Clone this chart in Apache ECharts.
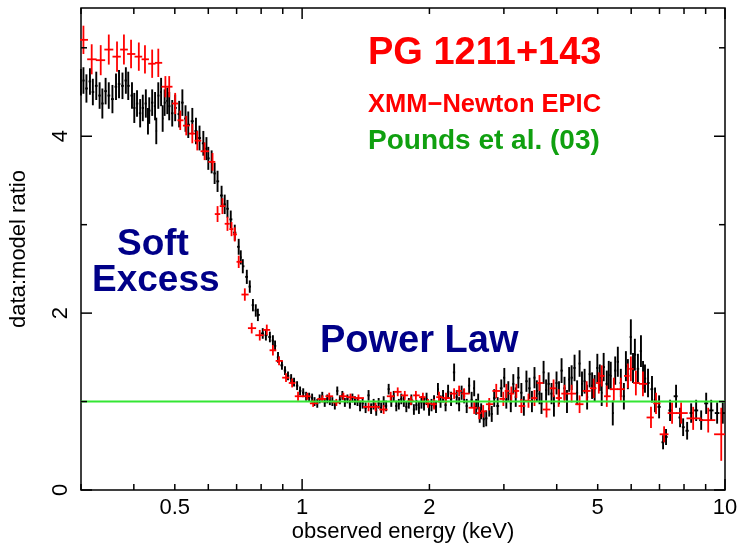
<!DOCTYPE html>
<html><head><meta charset="utf-8">
<script src="https://cdn.jsdelivr.net/npm/echarts@6/dist/echarts.min.js"></script>
<style>html,body{margin:0;padding:0;background:#fff}#c{width:737px;height:548px}</style>
</head><body><div id="c"></div>
<script>
// [energy keV, data:model ratio, 1-sigma error]
const blackPoints = [
[0.300,4.61,0.15],[0.304,4.63,0.15],[0.309,4.54,0.16],[0.315,4.62,0.15],[0.320,4.50,0.15],[0.326,4.57,0.16],[0.332,4.46,0.15],[0.337,4.37,0.17],[0.343,4.51,0.15],[0.349,4.46,0.15],
[0.356,4.42,0.16],[0.363,4.56,0.15],[0.369,4.59,0.16],[0.376,4.57,0.15],[0.383,4.63,0.15],[0.388,4.57,0.16],[0.396,4.46,0.15],[0.401,4.32,0.17],[0.407,4.37,0.15],[0.414,4.26,0.16],
[0.420,4.32,0.15],[0.427,4.37,0.16],[0.432,4.17,0.15],[0.435,4.29,0.15],[0.442,4.38,0.15],[0.449,4.34,0.16],[0.452,4.06,0.15],[0.457,4.46,0.15],[0.464,4.50,0.16],[0.468,4.20,0.15],
[0.473,4.38,0.15],[0.480,4.40,0.15],[0.485,4.34,0.16],[0.493,4.26,0.15],[0.501,4.32,0.15],[0.512,4.25,0.15],[0.521,4.38,0.15],[0.530,4.20,0.15],[0.538,4.13,0.15],[0.550,4.17,0.15],
[0.561,4.06,0.15],[0.572,3.98,0.14],[0.584,3.92,0.14],[0.594,3.86,0.13],[0.600,3.75,0.13],[0.611,3.71,0.13],[0.621,3.58,0.12],[0.631,3.49,0.12],[0.645,3.33,0.11],[0.656,3.23,0.11],
[0.666,3.18,0.10],[0.678,3.06,0.10],[0.693,2.91,0.09],[0.708,2.75,0.09],[0.716,2.63,0.08],[0.724,2.53,0.08],[0.740,2.41,0.08],[0.752,2.30,0.07],[0.765,2.09,0.07],[0.777,2.03,0.07],
[0.786,1.98,0.07],[0.807,1.77,0.06],[0.821,1.75,0.06],[0.839,1.73,0.06],[0.853,1.69,0.06],[0.863,1.63,0.06],[0.877,1.50,0.06],[0.896,1.41,0.05],[0.911,1.35,0.05],[0.926,1.29,0.05],
[0.942,1.26,0.05],[0.957,1.22,0.05],[0.973,1.18,0.05],[0.989,1.12,0.05],[1.006,1.10,0.05],[1.022,1.06,0.05],[1.039,1.05,0.05],[1.056,1.04,0.05],[1.070,1.00,0.05],[1.086,0.98,0.05],
[1.100,1.03,0.05],[1.116,1.06,0.05],[1.131,0.99,0.05],[1.147,1.03,0.05],[1.163,1.01,0.05],[1.179,1.00,0.05],[1.195,0.96,0.05],[1.211,1.12,0.05],[1.228,1.02,0.05],[1.245,1.07,0.05],
[1.262,0.99,0.05],[1.280,1.03,0.05],[1.297,0.97,0.05],[1.315,1.04,0.05],[1.333,1.01,0.05],[1.352,1.00,0.05],[1.371,0.95,0.06],[1.390,0.98,0.06],[1.413,0.93,0.06],[1.436,1.07,0.06],
[1.456,0.92,0.06],[1.476,0.97,0.06],[1.497,0.90,0.06],[1.517,0.98,0.06],[1.538,0.93,0.06],[1.559,1.00,0.06],[1.580,0.95,0.06],[1.602,1.14,0.06],[1.625,1.00,0.06],[1.647,1.06,0.06],
[1.670,0.95,0.06],[1.693,0.97,0.06],[1.716,1.03,0.06],[1.740,1.00,0.06],[1.764,0.94,0.06],[1.788,0.98,0.06],[1.813,1.02,0.06],[1.838,0.91,0.06],[1.863,0.96,0.06],[1.889,0.93,0.07],
[1.915,0.99,0.07],[1.942,0.97,0.07],[1.969,1.03,0.07],[1.996,0.91,0.07],[2.023,0.96,0.07],[2.051,1.00,0.07],[2.073,0.94,0.07],[2.095,1.14,0.07],[2.125,1.00,0.07],[2.154,1.06,0.07],
[2.184,0.96,0.07],[2.214,1.11,0.08],[2.250,1.03,0.08],[2.288,1.33,0.10],[2.320,1.05,0.08],[2.351,0.97,0.08],[2.383,1.10,0.08],[2.416,1.06,0.08],[2.450,0.95,0.08],[2.483,1.18,0.09],
[2.517,1.02,0.09],[2.552,1.15,0.09],[2.580,0.94,0.09],[2.608,1.00,0.09],[2.630,0.85,0.09],[2.651,0.89,0.09],[2.688,0.80,0.09],[2.725,0.81,0.09],[2.770,0.92,0.09],[2.808,0.86,0.09],
[2.846,1.04,0.10],[2.900,0.95,0.10],[2.958,1.15,0.10],[3.007,1.27,0.11],[3.040,1.02,0.10],[3.073,1.12,0.11],[3.115,0.98,0.10],[3.158,1.20,0.11],[3.200,1.05,0.11],[3.246,1.27,0.12],
[3.300,1.10,0.11],[3.345,0.95,0.11],[3.392,1.23,0.12],[3.449,1.15,0.12],[3.495,1.00,0.12],[3.544,1.27,0.12],[3.590,1.12,0.12],[3.642,1.09,0.12],[3.682,0.98,0.12],[3.724,1.33,0.13],
[3.775,1.13,0.12],[3.827,1.20,0.13],[3.889,1.09,0.12],[3.940,0.95,0.12],[3.996,1.21,0.13],[4.050,1.10,0.13],[4.107,1.35,0.14],[4.174,1.15,0.13],[4.230,1.00,0.13],[4.280,1.25,0.14],
[4.338,1.27,0.14],[4.408,1.38,0.15],[4.470,1.10,0.14],[4.530,1.43,0.15],[4.590,1.20,0.14],[4.656,1.23,0.14],[4.720,1.05,0.14],[4.786,1.31,0.15],[4.850,1.18,0.15],[4.918,1.15,0.15],
[4.990,1.38,0.16],[5.057,1.27,0.15],[5.110,1.10,0.15],[5.165,1.39,0.16],[5.254,1.20,0.15],[5.310,1.30,0.16],[5.368,1.29,0.16],[5.428,0.87,0.14],[5.500,1.35,0.16],[5.579,1.45,0.17],
[5.671,1.21,0.16],[5.766,1.06,0.15],[5.830,1.40,0.17],[5.893,1.31,0.17],[5.989,1.73,0.20],[6.060,1.38,0.17],[6.122,1.53,0.18],[6.224,1.37,0.17],[6.328,1.57,0.18],[6.400,1.30,0.16],
[6.468,1.26,0.16],[6.576,1.21,0.16],[6.720,1.14,0.15],[6.832,1.02,0.14],[6.985,0.94,0.13],[7.138,0.54,0.08],[7.254,0.60,0.09],[7.414,0.90,0.12],[7.661,1.06,0.13],[7.830,0.82,0.11],
[7.962,0.71,0.10],[8.137,0.67,0.10],[8.317,0.87,0.11],[8.546,0.90,0.12],[8.783,0.79,0.11],[9.026,0.98,0.12],[9.276,0.90,0.12],[9.580,0.87,0.12],[9.880,0.87,0.12]
];
const redPoints = [
[0.304,5.09,0.16],[0.318,4.87,0.17],[0.334,4.86,0.17],[0.349,4.98,0.17],[0.365,4.90,0.17],[0.379,4.98,0.17],[0.394,4.93,0.16],[0.411,4.90,0.16],[0.425,4.87,0.16],[0.442,4.82,0.16],
[0.457,4.83,0.16],[0.475,4.56,0.12],[0.485,4.56,0.12],[0.501,4.37,0.12],[0.515,4.18,0.11],[0.532,4.12,0.11],[0.550,4.03,0.11],[0.565,3.95,0.11],[0.588,3.83,0.10],[0.614,3.71,0.10],
[0.631,3.12,0.09],[0.648,3.21,0.09],[0.666,3.01,0.08],[0.681,2.95,0.08],[0.693,2.89,0.08],[0.708,2.58,0.07],[0.732,2.21,0.07],[0.760,1.83,0.06],[0.794,1.75,0.06],[0.825,1.81,0.06],
[0.853,1.58,0.06],[0.882,1.46,0.05],[0.916,1.27,0.05],[0.947,1.21,0.05],[0.978,1.06,0.05],[1.028,1.06,0.04],[1.062,0.98,0.04],[1.116,1.03,0.04],[1.159,1.06,0.04],[1.205,0.99,0.04],
[1.252,1.06,0.04],[1.301,1.05,0.04],[1.359,1.04,0.04],[1.436,0.94,0.05],[1.492,0.94,0.05],[1.559,0.91,0.05],[1.620,1.06,0.05],[1.683,1.11,0.05],[1.749,1.07,0.05],[1.808,1.01,0.05],
[1.858,1.07,0.05],[1.930,1.05,0.05],[1.985,0.98,0.05],[2.051,0.97,0.06],[2.107,1.05,0.06],[2.189,1.04,0.06],[2.288,1.09,0.06],[2.351,1.12,0.06],[2.416,1.09,0.06],[2.552,0.93,0.07],
[2.623,0.87,0.07],[2.680,0.89,0.07],[2.770,0.97,0.07],[2.878,1.12,0.08],[2.991,1.03,0.08],[3.040,1.12,0.08],[3.124,1.09,0.08],[3.211,1.12,0.08],[3.300,0.95,0.08],[3.430,1.01,0.08],
[3.544,1.04,0.09],[3.642,1.21,0.09],[3.784,0.91,0.09],[3.932,1.15,0.10],[4.041,1.04,0.10],[4.174,1.09,0.10],[4.338,1.09,0.10],[4.530,0.97,0.10],[4.709,1.12,0.11],[4.892,1.15,0.11],
[5.030,1.21,0.12],[5.112,1.29,0.12],[5.254,1.06,0.12],[5.459,1.14,0.13],[5.671,1.14,0.13],[5.893,1.29,0.14],[5.989,1.37,0.14],[6.155,1.21,0.14],[6.397,1.20,0.14],[6.683,0.82,0.12],
[6.869,0.98,0.12],[7.178,0.63,0.09],[7.496,0.87,0.12],[7.874,0.87,0.12],[8.408,0.81,0.13],[9.127,0.79,0.14],[9.798,0.63,0.30]
];
const modelLevel = 1;
const xTickMajor = [1, 10];
const xTickMinor = [0.3, 0.4, 0.5, 0.6, 0.7, 0.8, 0.9, 2, 3, 4, 5, 6, 7, 8, 9];
const xTickLabelValues = [0.5, 1, 2, 5, 10];
const xTickLabels = ['0.5', '1', '2', '5', '10'];
const yTickMajor = [0, 2, 4];
const yTickMinor = [1, 3, 5];
const yTickLabels = ['0', '2', '4'];

const X_MIN = 0.3, X_MAX = 10, Y_MIN = 0, Y_MAX = 5.45;
const AXIS_FONT = '22px "Liberation Sans", Arial, sans-serif';

function withBins(points) {
  return points.map((p, i) => {
    const prev = i > 0 ? points[i - 1][0] : null;
    const next = i < points.length - 1 ? points[i + 1][0] : null;
    const lo = prev ? Math.sqrt(prev * p[0]) : p[0] * Math.sqrt(p[0] / next);
    const hi = next ? Math.sqrt(next * p[0]) : p[0] * Math.sqrt(p[0] / prev);
    return [p[0], p[1], p[2], lo, hi];
  });
}

function crossItem(color, shrink, lw) {
  return function (params, api) {
    const e = api.value(0), r = api.value(1), err = api.value(2), lo = api.value(3), hi = api.value(4);
    const loS = e * Math.pow(lo / e, shrink), hiS = e * Math.pow(hi / e, shrink);
    const a = api.coord([e, r + err]), b = api.coord([e, r - err]);
    const c = api.coord([loS, r]), d = api.coord([hiS, r]);
    return {
      type: 'group', children: [
        { type: 'line', shape: { x1: a[0], y1: a[1], x2: b[0], y2: b[1] }, style: { stroke: color, lineWidth: lw } },
        { type: 'line', shape: { x1: c[0], y1: c[1], x2: d[0], y2: d[1] }, style: { stroke: color, lineWidth: lw } }
      ]
    };
  };
}

function xTickItem(params, api) {
  const v = api.value(0), major = api.value(1);
  const cs = params.coordSys;
  const len = major ? 11 : 6;
  const x = api.coord([v, Y_MIN])[0];
  const yb = cs.y + cs.height, yt = cs.y;
  return { type: 'group', children: [
    { type: 'line', shape: { x1: x, y1: yb, x2: x, y2: yb - len }, style: { stroke: '#000', lineWidth: 1.5 } },
    { type: 'line', shape: { x1: x, y1: yt, x2: x, y2: yt + len }, style: { stroke: '#000', lineWidth: 1.5 } }
  ]};
}
function yTickItem(params, api) {
  const v = api.value(1), major = api.value(2);
  const cs = params.coordSys;
  const len = major ? 11 : 6;
  const y = api.coord([X_MIN, v])[1];
  const xl = cs.x, xr = cs.x + cs.width;
  return { type: 'group', children: [
    { type: 'line', shape: { x1: xl, y1: y, x2: xl + len, y2: y }, style: { stroke: '#000', lineWidth: 1.5 } },
    { type: 'line', shape: { x1: xr, y1: y, x2: xr - len, y2: y }, style: { stroke: '#000', lineWidth: 1.5 } }
  ]};
}
function xLabelItem(params, api) {
  const v = api.value(0), idx = api.value(2);
  const cs = params.coordSys;
  const x = api.coord([v, Y_MIN])[0];
  return { type: 'text', x: x, y: cs.y + cs.height + 18,
    style: { text: xTickLabels[idx], fill: '#000', font: AXIS_FONT, align: 'center', verticalAlign: 'middle' } };
}
function yLabelItem(params, api) {
  const v = api.value(1), idx = api.value(2);
  const cs = params.coordSys;
  const y = api.coord([X_MIN, v])[1];
  return { type: 'text', x: cs.x - 20, y: y, rotation: Math.PI / 2,
    style: { text: yTickLabels[idx], fill: '#000', font: AXIS_FONT, align: 'center', verticalAlign: 'middle' } };
}

const chart = echarts.init(document.getElementById('c'), null, { renderer: 'canvas' });
chart.setOption({
  animation: false,
  backgroundColor: '#fff',
  grid: { left: 80, right: 12, top: 8, bottom: 58, show: true, borderColor: '#000', borderWidth: 1.5, backgroundColor: 'transparent' },
  xAxis: {
    type: 'log', logBase: 10, min: X_MIN, max: X_MAX,
    axisLine: { show: false }, axisTick: { show: false }, axisLabel: { show: false }, splitLine: { show: false },
    name: 'observed energy (keV)', nameLocation: 'middle', nameGap: 31,
    nameTextStyle: { color: '#000', fontSize: 22, fontFamily: '"Liberation Sans", Arial, sans-serif' }
  },
  yAxis: {
    type: 'value', min: Y_MIN, max: Y_MAX,
    axisLine: { show: false }, axisTick: { show: false }, axisLabel: { show: false }, splitLine: { show: false },
    name: 'data:model ratio', nameLocation: 'middle', nameGap: 51, nameRotate: 90,
    nameTextStyle: { color: '#000', fontSize: 22, fontFamily: '"Liberation Sans", Arial, sans-serif' }
  },
  series: [
    { type: 'custom', name: 'pn', renderItem: crossItem('#000000', 0.8, 1.9), data: withBins(blackPoints), clip: true, z: 2 },
    { type: 'custom', name: 'mos', renderItem: crossItem('#ff0000', 1.1, 1.8), data: withBins(redPoints), clip: true, z: 3 },
    { type: 'line', name: 'model', data: [[X_MIN, modelLevel], [X_MAX, modelLevel]], symbol: 'none',
      lineStyle: { color: '#33e633', width: 2 }, z: 4 },
    { type: 'custom', renderItem: xTickItem, data: xTickMajor.map(v => [v, 1]).concat(xTickMinor.map(v => [v, 0])), z: 5, silent: true },
    { type: 'custom', renderItem: yTickItem, encode: { x: 0, y: 1 }, data: yTickMajor.map(v => [X_MIN, v, 1]).concat(yTickMinor.map(v => [X_MIN, v, 0])), z: 5, silent: true },
    { type: 'custom', renderItem: xLabelItem, data: xTickLabelValues.map((v, i) => [v, 0, i]), z: 5, silent: true },
    { type: 'custom', renderItem: yLabelItem, data: yTickMajor.map((v, i) => [X_MIN, v, i]), z: 5, silent: true }
  ],
  graphic: [
    { type: 'text', x: 368, y: 54, style: { text: 'PG 1211+143', fill: '#ff0000', font: 'bold 38px "Liberation Sans", Arial, sans-serif', align: 'left', verticalAlign: 'middle' } },
    { type: 'text', x: 368, y: 105, style: { text: 'XMM\u2212Newton EPIC', fill: '#ff0000', font: 'bold 25.5px "Liberation Sans", Arial, sans-serif', align: 'left', verticalAlign: 'middle' } },
    { type: 'text', x: 368, y: 141, style: { text: 'Pounds et al. (03)', fill: '#10a010', font: 'bold 28px "Liberation Sans", Arial, sans-serif', align: 'left', verticalAlign: 'middle' } },
    { type: 'text', x: 117, y: 245, style: { text: 'Soft', fill: '#000088', font: 'bold 37px "Liberation Sans", Arial, sans-serif', align: 'left', verticalAlign: 'middle' } },
    { type: 'text', x: 92, y: 281, style: { text: 'Excess', fill: '#000088', font: 'bold 37px "Liberation Sans", Arial, sans-serif', align: 'left', verticalAlign: 'middle' } },
    { type: 'text', x: 320, y: 342, style: { text: 'Power Law', fill: '#000088', font: 'bold 38px "Liberation Sans", Arial, sans-serif', align: 'left', verticalAlign: 'middle' } }
  ]
});
</script>
</body></html>
